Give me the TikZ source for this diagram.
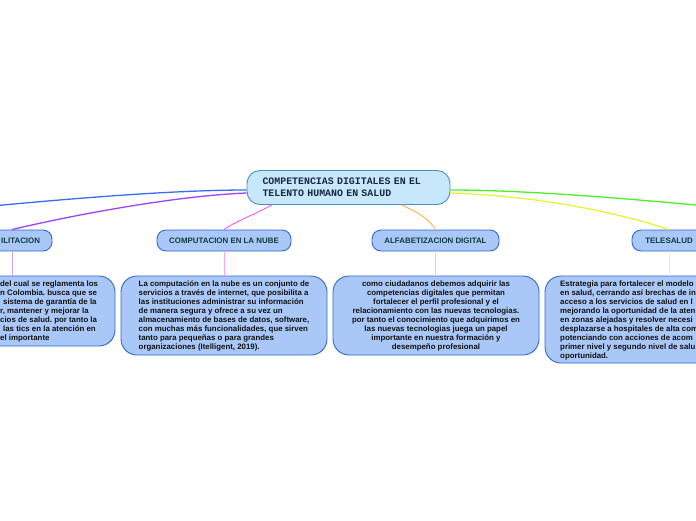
\documentclass[tikz,border=0pt]{standalone}
\usepackage{fontspec}
\setmainfont{Liberation Sans}
\newfontfamily\cmono{Liberation Mono}
\usetikzlibrary{calc}
\frenchspacing
\definecolor{cfill}{HTML}{C6E8FA}
\definecolor{cborder}{HTML}{4F8CC6}
\definecolor{ctext}{HTML}{1A2642}
\definecolor{bfill}{HTML}{A9C8F8}
\definecolor{bborder}{HTML}{3168D2}
\definecolor{htext}{HTML}{0E3C3C}
\definecolor{dtext}{HTML}{111111}
\definecolor{lblue}{HTML}{3A6BF5}
\definecolor{lpurple}{HTML}{9B45F5}
\definecolor{lmagenta}{HTML}{F055F5}
\definecolor{lorange}{HTML}{FAB450}
\definecolor{lyellow}{HTML}{E3F53A}
\definecolor{lgreen}{HTML}{4CF02A}
\definecolor{vpurple}{HTML}{C9A5F2}
\definecolor{vpink}{HTML}{F4A8F5}
\definecolor{vorange}{HTML}{F9D3A0}
\definecolor{vyellow}{HTML}{EEF7A0}
\tikzset{
  central/.style={draw=cborder, fill=cfill, rounded corners=13pt, line width=0.9pt,
    minimum width=203pt, minimum height=34pt, inner sep=0pt, text width=172pt, align=left,
    font=\cmono\bfseries\fontsize{9.9}{11.6}\selectfont, text=ctext},
  head/.style={draw=bborder, fill=bfill, rounded corners=9pt, line width=0.9pt,
    minimum height=21pt, inner sep=0pt, font=\bfseries\fontsize{7.9}{9}\selectfont, text=htext},
  detail/.style={draw=bborder, fill=bfill, rounded corners=16pt, line width=0.9pt,
    inner sep=0pt, font=\bfseries\fontsize{7.85}{9}\selectfont\frenchspacing, text=dtext},
  dtxt/.style={inner sep=0pt, font=\bfseries\fontsize{7.85}{9}\selectfont\frenchspacing, text=dtext, align=left},
  conn/.style={line width=1.3pt},
  thin conn/.style={line width=0.9pt},
  vline/.style={line width=1pt},
}
\begin{document}
\begin{tikzpicture}[x=1pt,y=-1pt]
\useasboundingbox (0,0) rectangle (696,520);
\fill[white] (0,0) rectangle (696,520);
\clip (0,0) rectangle (696,520);

% central
\node[central] (c) at (348.5,187.5) {COMPETENCIAS DIGITALES EN EL\\TELENTO HUMANO EN SALUD};

% headers
\node[head, minimum width=80pt, text width=56pt, inner xsep=12pt, align=right] (h1) at (12,240.5) {ILITACION};
\node[head, minimum width=134pt] (h2) at (224,240.5) {COMPUTACION EN LA NUBE};
\node[head, minimum width=127pt] (h3) at (435.5,240.5) {ALFABETIZACION DIGITAL};
\node[head, minimum width=74pt] (h4) at (669,240.5) {TELESALUD};

% details
\node[detail, minimum width=155pt, minimum height=70pt] (d1) at (37.5,311) {};
\node[dtxt, anchor=west] (d1t) at (0,311.5) {del cual se reglamenta los\\
n Colombia. busca que se\\
\hspace*{3pt}sistema de garantía de la\\
r, mantener y mejorar la\\
cios de salud. por tanto la\\
\hspace*{3pt}las tics en la atención en\\
el importante};

\node[detail, minimum width=206pt, minimum height=79pt, align=left] (d2) at (224,315.5) {La computación en la nube es un conjunto de\\
servicios a través de internet, que posibilita a\\
las instituciones administrar su información\\
de manera segura y ofrece a su vez un\\
almacenamiento de bases de datos, software,\\
con muchas más funcionalidades, que sirven\\
tanto para pequeñas o para grandes\\
organizaciones (Itelligent, 2019).};

\node[detail, minimum width=206pt, minimum height=79pt, align=center] (d3) at (436,315.5) {como ciudadanos debemos adquirir las\\
competencias digitales que permitan\\
fortalecer el perfil profesional y el\\
relacionamiento con las nuevas tecnologias.\\
por tanto el conocimiento que adquirimos en\\
las nuevas tecnologias juega un papel\\
importante en nuestra formación y\\
desempeño profesional};

\node[detail, minimum width=248pt, minimum height=87pt] (d4) at (669,319.5) {};
\node[dtxt, anchor=west] (d4t) at (560,320.5) {Estrategia para fortalecer el modelo\\
en salud, cerrando así brechas de in\\
acceso a los servicios de salud en l\\
mejorando la oportunidad de la aten\\
en zonas alejadas y resolver necesi\\
desplazarse a hospitales de alta com\\
potenciando con acciones de acom\\
primer nivel y segundo nivel de salu\\
oportunidad.};

% off-picture ends
\coordinate (Loff) at (-100,215);
\coordinate (Roff) at (800,215);

% connectors
\draw[conn, lblue] ($(c.west)+(0,2.5)$) .. controls (150,190) and (0,205) .. (Loff);
\draw[conn, lpurple] ($(c.west)+(0,5.5)$) .. controls (170,196) and (60,218) .. (h1.north);
\draw[thin conn, lmagenta] ($(c.south west)+(25,0)$) .. controls (258,213) and (236,221) .. (h2.north);
\draw[thin conn, lorange] ($(c.south west)+(155,0)$) .. controls (418,212) and (430,220) .. (h3.north);
\draw[conn, lyellow] ($(c.east)+(0,5.5)$) .. controls (540,196) and (620,213) .. (h4.north);
\draw[conn, lgreen] ($(c.east)+(0,2.5)$) .. controls (550,190) and (696,205) .. (Roff);

% verticals
\draw[vline, vpurple] (h1.south) -- (h1.south |- d1.north);
\draw[vline, vpink] (h2.south) -- (h2.south |- d2.north);
\draw[vline, vorange] (h3.south) -- (h3.south |- d3.north);
\draw[vline, vyellow] (h4.south) -- (h4.south |- d4.north);
\end{tikzpicture}
\end{document}
